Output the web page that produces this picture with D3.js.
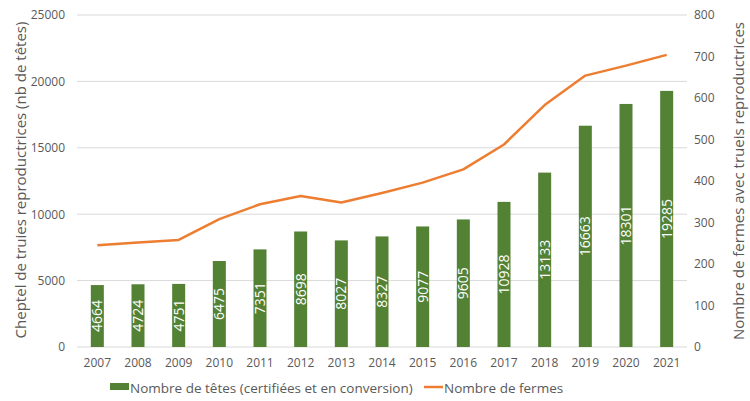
<!DOCTYPE html>
<html>
<head>
<meta charset="utf-8">
<script src="https://cdn.jsdelivr.net/npm/d3@7"></script>
<style>
  body { margin: 0; background: #fff; }
  text { font-family: "Open Sans", "Liberation Sans", sans-serif; }
</style>
</head>
<body>
<svg id="chart" width="750" height="401"></svg>
<script>
const years = ['2007','2008','2009','2010','2011','2012','2013','2014','2015','2016','2017','2018','2019','2020','2021'];
const tetes = [4664, 4724, 4751, 6475, 7351, 8698, 8027, 8327, 9077, 9605, 10928, 13133, 16663, 18301, 19285];
const fermes = [245, 252, 258, 308, 344, 364, 348, 371, 396, 428, 488, 583, 654, 678, 704];
const leftTicks = [0, 5000, 10000, 15000, 20000, 25000];
const rightTicks = [0, 100, 200, 300, 400, 500, 600, 700, 800];

const green = '#548235';
const orange = '#ed7d31';
const grey = '#595959';

const svg = d3.select('#chart');
const plotL = 77, plotR = 687, plotT = 15, plotB = 347;

const x = d3.scaleBand().domain(years).range([plotL, plotR]).paddingInner(0.68).paddingOuter(0.34);
const y = d3.scaleLinear().domain([0, 25000]).range([plotB, plotT]);
const y2 = d3.scaleLinear().domain([0, 800]).range([plotB, plotT]);

// grille
svg.append('g').selectAll('line').data(leftTicks).join('line')
    .attr('x1', plotL).attr('x2', plotR)
    .attr('y1', d => y(d)).attr('y2', d => y(d))
    .attr('stroke', '#d9d9d9').attr('stroke-width', 1);

// axe gauche
const gl = svg.append('g').attr('transform', 'translate(' + (plotL - 12) + ',0)')
    .call(d3.axisLeft(y).tickValues(leftTicks).tickFormat(d3.format('d')).tickSize(0).tickPadding(0));
gl.select('.domain').remove();
gl.selectAll('text').attr('fill', grey).style('font-size', '12px');

// axe droit
const gr = svg.append('g').attr('transform', 'translate(' + (plotR + 7) + ',0)')
    .call(d3.axisRight(y2).tickValues(rightTicks).tickSize(0).tickPadding(0));
gr.select('.domain').remove();
gr.selectAll('text').attr('fill', grey).style('font-size', '12px');

// axe x
const gx = svg.append('g').attr('transform', 'translate(0,' + plotB + ')')
    .call(d3.axisBottom(x).tickSize(0).tickPadding(11));
gx.select('.domain').remove();
gx.selectAll('text').attr('fill', grey).style('font-size', '12px');

// barres
svg.append('g').selectAll('rect').data(tetes).join('rect')
    .attr('x', (d, i) => x(years[i]))
    .attr('width', x.bandwidth())
    .attr('y', d => y(d))
    .attr('height', d => y(0) - y(d))
    .attr('fill', green);

svg.append('g').selectAll('text').data(tetes).join('text')
    .attr('transform', (d, i) => 'translate(' + (x(years[i]) + x.bandwidth() / 2 + 5) + ',' + ((y(d) + y(0)) / 2) + ') rotate(-90)')
    .attr('text-anchor', 'middle')
    .attr('fill', '#fff')
    .style('font-size', '14px')
    .text(d => d);

// ligne
svg.append('path').datum(fermes)
    .attr('fill', 'none')
    .attr('stroke', orange)
    .attr('stroke-width', 2.5)
    .attr('stroke-linejoin', 'round')
    .attr('d', d3.line().x((d, i) => x(years[i]) + x.bandwidth() / 2).y(d => y2(d)));

// titres des axes
svg.append('text')
    .attr('transform', 'translate(26,' + ((plotT + plotB) / 2 - 1) + ') rotate(-90)')
    .attr('text-anchor', 'middle').attr('fill', grey).style('font-size', '15px')
    .text('Cheptel de truies reproductrices (nb de têtes)');

svg.append('text')
    .attr('transform', 'translate(744,' + ((plotT + plotB) / 2) + ') rotate(-90)')
    .attr('text-anchor', 'middle').attr('fill', grey).style('font-size', '15px')
    .text('Nombre de fermes avec trueis reproductrices');

// légende
const lg = svg.append('g');
lg.append('rect').attr('x', 110).attr('y', 383).attr('width', 19).attr('height', 7).attr('fill', green);
lg.append('text').attr('x', 130).attr('y', 393).attr('fill', grey).style('font-size', '13.5px')
    .text('Nombre de têtes (certifiées et en conversion)');
lg.append('line').attr('x1', 424).attr('x2', 443).attr('y1', 387).attr('y2', 387)
    .attr('stroke', orange).attr('stroke-width', 2.5);
lg.append('text').attr('x', 444).attr('y', 393).attr('fill', grey).style('font-size', '13.5px')
    .text('Nombre de fermes');
</script>
</body>
</html>
